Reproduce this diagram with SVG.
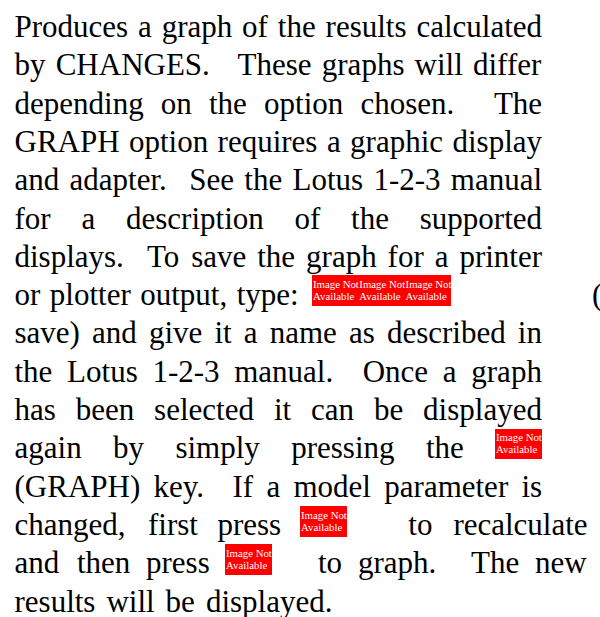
<svg xmlns="http://www.w3.org/2000/svg" width="600" height="617" viewBox="0 0 600 617">
<style>
.t{font-family:"Liberation Serif","Times New Roman",serif;font-size:31px;fill:#000}
.na{fill:#ff0000}
.it{font-family:"Liberation Serif","Times New Roman",serif;font-size:10.8px;fill:#fff}
</style>
<rect width="600" height="617" fill="#fff"/>
<g id="paragraph">
<text class="t" y="37"><tspan x="14.5">Produces</tspan><tspan x="138">a</tspan><tspan x="161.7">graph</tspan><tspan x="242.1">of</tspan><tspan x="277.8">the</tspan><tspan x="325.6">results</tspan><tspan x="416.4">calculated</tspan></text>
<text class="t" y="75.3"><tspan x="14.5">by</tspan><tspan x="55.7">CHANGES.</tspan><tspan x="237.6">These</tspan><tspan x="321.8">graphs</tspan><tspan x="414.6">will</tspan><tspan x="473">differ</tspan></text>
<text class="t" y="113.6"><tspan x="14.5">depending</tspan><tspan x="160.8">on</tspan><tspan x="209">the</tspan><tspan x="264.1">option</tspan><tspan x="360.5">chosen.</tspan><tspan x="493.9">The</tspan></text>
<text class="t" y="151.9"><tspan x="14.5">GRAPH</tspan><tspan x="129">option</tspan><tspan x="217.6">requires</tspan><tspan x="326.9">a</tspan><tspan x="350.1">graphic</tspan><tspan x="452.5">display</tspan></text>
<text class="t" y="190.2"><tspan x="14.5">and</tspan><tspan x="69.6">adapter.</tspan><tspan x="189.2">See</tspan><tspan x="244.3">the</tspan><tspan x="292.5">Lotus</tspan><tspan x="373.4">1-2-3</tspan><tspan x="450.8">manual</tspan></text>
<text class="t" y="228.5"><tspan x="14.5">for</tspan><tspan x="81.4">a</tspan><tspan x="126">description</tspan><tspan x="294.5">of</tspan><tspan x="351.1">the</tspan><tspan x="419.8">supported</tspan></text>
<text class="t" y="266.8"><tspan x="14.5">displays.</tspan><tspan x="147">To</tspan><tspan x="191.2">save</tspan><tspan x="257.2">the</tspan><tspan x="306.1">graph</tspan><tspan x="387.6">for</tspan><tspan x="434.7">a</tspan><tspan x="459.4">printer</tspan></text>
<text class="t" y="305.1"><tspan x="14.5">or</tspan><tspan x="49.8">plotter</tspan><tspan x="140.2">output,</tspan><tspan x="236.7">type:</tspan><tspan x="592">(</tspan></text>
<text class="t" y="343.4"><tspan x="14.5">save)</tspan><tspan x="92">and</tspan><tspan x="148.9">give</tspan><tspan x="214.4">it</tspan><tspan x="243.8">a</tspan><tspan x="269.7">name</tspan><tspan x="349">as</tspan><tspan x="386.9">described</tspan><tspan x="517.8">in</tspan></text>
<text class="t" y="381.7"><tspan x="14.5">the</tspan><tspan x="67.1">Lotus</tspan><tspan x="152.4">1-2-3</tspan><tspan x="234.2">manual.</tspan><tspan x="362.7">Once</tspan><tspan x="442.8">a</tspan><tspan x="471.3">graph</tspan></text>
<text class="t" y="420"><tspan x="14.5">has</tspan><tspan x="75.7">been</tspan><tspan x="154.1">selected</tspan><tspan x="273.9">it</tspan><tspan x="311">can</tspan><tspan x="373.9">be</tspan><tspan x="423.1">displayed</tspan></text>
<text class="t" y="458.3"><tspan x="14.5">again</tspan><tspan x="113">by</tspan><tspan x="175.4">simply</tspan><tspan x="291.2">pressing</tspan><tspan x="425.9">the</tspan></text>
<text class="t" y="496.6"><tspan x="14.5">(GRAPH)</tspan><tspan x="153.5">key.</tspan><tspan x="232.5">If</tspan><tspan x="266.4">a</tspan><tspan x="293.5">model</tspan><tspan x="384.3">parameter</tspan><tspan x="521.5">is</tspan></text>
<text class="t" y="534.9"><tspan x="14.5">changed,</tspan><tspan x="148">first</tspan><tspan x="217.4">press</tspan><tspan x="408.3">to</tspan><tspan x="453.4">recalculate</tspan></text>
<text class="t" y="573.2"><tspan x="14.5">and</tspan><tspan x="77">then</tspan><tspan x="146">press</tspan><tspan x="318">to</tspan><tspan x="358">graph.</tspan><tspan x="471">The</tspan><tspan x="535">new</tspan></text>
<text class="t" y="611.5"><tspan x="14.5">results</tspan><tspan x="106.4">will</tspan><tspan x="165.6">be</tspan><tspan x="205.9">displayed.</tspan></text>
</g>
<g id="missing-images">
<rect class="na" x="312" y="275" width="139" height="31"/>
<text class="it" y="287.6"><tspan x="313">Image Not</tspan><tspan x="359.3">Image Not</tspan><tspan x="405.6">Image Not</tspan></text>
<text class="it" y="299.6"><tspan x="313">Available</tspan><tspan x="359.3">Available</tspan><tspan x="405.6">Available</tspan></text>
<rect class="na" x="495" y="429" width="47" height="30"/>
<text class="it" x="496" y="441.3">Image Not</text>
<text class="it" x="496" y="453.3">Available</text>
<rect class="na" x="300" y="506" width="47" height="31"/>
<text class="it" x="301" y="518.6">Image Not</text>
<text class="it" x="301" y="530.6">Available</text>
<rect class="na" x="225" y="544" width="47" height="31"/>
<text class="it" x="226" y="556.6">Image Not</text>
<text class="it" x="226" y="568.6">Available</text>
</g>
</svg>
